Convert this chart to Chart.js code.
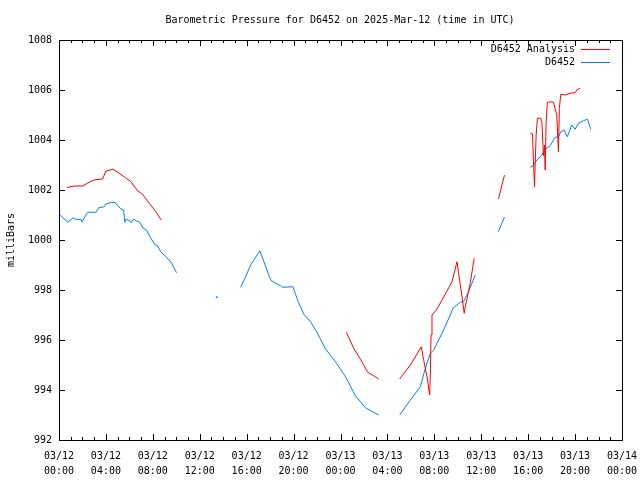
<!DOCTYPE html>
<html lang="en">
<head>
    <meta charset="UTF-8">
    <title>Barometric Pressure for D6452</title>
    <script src="https://cdn.jsdelivr.net/npm/chart.js"></script>
    <style>
        body { margin: 0; background: #fff; }
        #chartBox { width: 640px; height: 480px; }
    </style>
</head>
<body>
<div id="chartBox">
    <canvas id="myChart" width="640" height="480"></canvas>
</div>
<script>
    // hours since 03/12 00:00 UTC, null breaks the line
    const analysisHours = [
        0.68, 1.30, 2.02, 2.58, 2.95, 3.72, 4.00, 4.62, 5.13, 5.70, 6.13, 6.70, 7.12, 7.69, 8.26, 8.71,
        null,
        24.49, 25.13, 25.70, 26.32, 26.83, 27.26,
        null,
        29.05, 29.96, 30.89, 31.04, 31.23, 31.43, 31.51, 31.60, 31.66, 31.72, 31.80, 32.17, 32.66,
        33.51, 33.93, 34.07, 34.36, 34.55, 34.64, 35.06, 35.40,
        null,
        37.47, 37.98,
        null,
        40.17, 40.37, 40.45, 40.54, 40.60, 40.68, 40.79, 41.08, 41.17, 41.30, 41.39, 41.45, 41.53,
        41.64, 42.02, 42.15, 42.44, 42.58, 42.66, 42.78, 43.15, 43.57, 44.00, 44.14, 44.43
    ];
    const analysisValues = [
        1002.10, 1002.16, 1002.16, 1002.31, 1002.40, 1002.44, 1002.76, 1002.83, 1002.67, 1002.48,
        1002.33, 1001.97, 1001.83, 1001.47, 1001.13, 1000.80,
        null,
        996.31, 995.67, 995.23, 994.71, 994.57, 994.44,
        null,
        994.44, 995.00, 995.73, 995.33, 994.87, 994.40, 994.07, 993.80, 994.60, 996.20, 997.00, 997.20,
        997.60, 998.33, 999.13, 998.67, 997.73, 997.07, 997.33, 998.27, 999.27,
        null,
        1001.64, 1002.60,
        null,
        1004.27, 1004.24, 1003.20, 1002.13, 1003.07, 1004.20, 1004.87, 1004.87, 1004.73, 1003.37,
        1003.80, 1002.80, 1004.67, 1005.51, 1005.53, 1005.51, 1005.00, 1003.53, 1005.27, 1005.83,
        1005.80, 1005.87, 1005.89, 1006.00, 1006.07
    ];

    const stationHours = [
        0.03, 0.74, 1.22, 1.39, 1.87, 1.96, 2.44, 3.15, 3.38, 3.86, 4.00, 4.51, 4.79, 5.28, 5.51, 5.62,
        5.70, 6.04, 6.13, 6.36, 6.55, 6.89, 7.17, 7.46, 7.83, 8.20, 8.40, 8.68, 9.11, 9.53, 10.02,
        null,
        13.45,
        null,
        15.49, 15.91, 16.34, 16.77, 17.13, 17.47, 18.04, 18.32, 18.89, 19.04, 19.94, 20.37, 20.88,
        21.45, 22.02, 22.72, 23.57, 24.43, 25.28, 26.13, 27.26,
        null,
        29.05, 29.96, 30.81, 31.23, 31.66, 31.94, 32.66, 33.36, 33.59, 34.21, 34.49, 34.92, 35.49,
        null,
        37.45, 37.98,
        null,
        40.17, 40.40, 40.74, 41.17, 41.45, 41.87, 42.30, 42.58, 42.78, 43.06, 43.34, 43.72, 44.00,
        44.28, 44.71, 45.05, 45.13, 45.34
    ];
    const stationValues = [
        1001.03, 1000.71, 1000.89, 1000.83, 1000.83, 1000.72, 1001.11, 1001.11, 1001.29, 1001.33,
        1001.44, 1001.51, 1001.49, 1001.24, 1001.20, 1000.71, 1000.83, 1000.77, 1000.69, 1000.84,
        1000.77, 1000.71, 1000.47, 1000.40, 1000.07, 999.80, 999.77, 999.53, 999.33, 999.13, 998.69,
        null,
        997.71,
        null,
        998.11, 998.53, 999.00, 999.31, 999.57, 999.13, 998.40, 998.31, 998.17, 998.11, 998.13,
        997.56, 997.03, 996.73, 996.29, 995.64, 995.13, 994.53, 993.76, 993.29, 993.00,
        null,
        993.00, 993.60, 994.13, 994.87, 995.47, 995.60, 996.27, 997.00, 997.27, 997.51, 997.53,
        997.93, 998.60,
        null,
        1000.33, 1000.91,
        null,
        1002.91, 1002.96, 1003.20, 1003.40, 1003.63, 1003.77, 1004.11, 1004.13, 1004.33, 1004.40,
        1004.13, 1004.60, 1004.43, 1004.67, 1004.77, 1004.83, 1004.73, 1004.43
    ];

    const xTickHours = [0, 4, 8, 12, 16, 20, 24, 28, 32, 36, 40, 44, 48];
    const xTickDates = ['03/12', '03/12', '03/12', '03/12', '03/12', '03/12', '03/13',
                        '03/13', '03/13', '03/13', '03/13', '03/13', '03/14'];
    const xTickTimes = ['00:00', '04:00', '08:00', '12:00', '16:00', '20:00', '00:00',
                        '04:00', '08:00', '12:00', '16:00', '20:00', '00:00'];
    const yTicks = [992, 994, 996, 998, 1000, 1002, 1004, 1006, 1008];

    const chartTitle = 'Barometric Pressure for D6452 on 2025-Mar-12 (time in UTC)';
    const seriesNames = ['D6452 Analysis', 'D6452'];
    const seriesColors = ['#ff0000', '#0080ff'];

    const FONT = '"DejaVu Sans Mono", "Liberation Mono", monospace';

    // build {x, y} points, a null hour marks a gap
    function toPoints(hours, values) {
        let pts = [];
        for (let i = 0; i < hours.length; i++) {
            if (hours[i] === null) {
                pts.push({ x: (hours[i - 1] + hours[i + 1]) / 2, y: null });
            } else {
                pts.push({ x: hours[i], y: values[i] });
            }
        }
        return pts;
    }

    // single points between two gaps get a tiny dot so they are visible
    function loneDot(ctx) {
        let d = ctx.dataset.data;
        let i = ctx.dataIndex;
        if (d[i].y === null) return 0;
        let prev = i === 0 || d[i - 1].y === null;
        let next = i === d.length - 1 || d[i + 1].y === null;
        return (prev && next) ? 1 : 0;
    }

    // gnuplot-like frame, inward ticks, title and legend
    const gnuplotFrame = {
        id: 'gnuplotFrame',
        afterDraw(chart) {
            const c = chart.ctx;
            const a = chart.chartArea;
            const xs = chart.scales.x;
            const ys = chart.scales.y;
            c.save();
            c.strokeStyle = '#000';
            c.lineWidth = 1;
            c.strokeRect(Math.round(a.left) + 0.5, Math.round(a.top) + 0.5,
                         Math.round(a.right - a.left), Math.round(a.bottom - a.top));
            c.beginPath();
            for (let h = 0; h <= 48; h++) {
                let px = Math.round(xs.getPixelForValue(h)) + 0.5;
                let len = (h % 4 === 0) ? 6 : 3;
                c.moveTo(px, a.bottom); c.lineTo(px, a.bottom - len);
                c.moveTo(px, a.top); c.lineTo(px, a.top + len);
            }
            yTicks.forEach(v => {
                let py = Math.round(ys.getPixelForValue(v)) + 0.5;
                c.moveTo(a.left, py); c.lineTo(a.left + 6, py);
                c.moveTo(a.right, py); c.lineTo(a.right - 6, py);
            });
            c.stroke();

            c.fillStyle = '#000';
            c.font = '10px ' + FONT;
            c.textAlign = 'center';
            c.textBaseline = 'middle';
            c.fillText(chartTitle, 340, 20);

            // legend
            c.textAlign = 'right';
            seriesNames.forEach((name, i) => {
                let y = 49 + i * 13;
                c.fillStyle = '#000';
                c.fillText(name, 575, y);
                c.strokeStyle = seriesColors[i];
                c.beginPath();
                c.moveTo(581, y + 0.5);
                c.lineTo(610, y + 0.5);
                c.stroke();
            });

            // y axis title
            c.translate(11, 240);
            c.rotate(-Math.PI / 2);
            c.textAlign = 'center';
            c.fillStyle = '#000';
            c.fillText('milliBars', 0, 0);
            c.restore();
        }
    };

    let ctx = document.getElementById('myChart').getContext('2d');
    window.myChart = new Chart(ctx, {
        type: 'line',
        data: {
            datasets: [
                {
                    label: seriesNames[0],
                    data: toPoints(analysisHours, analysisValues),
                    borderColor: seriesColors[0],
                    backgroundColor: seriesColors[0],
                    borderWidth: 1,
                    pointRadius: loneDot,
                    pointBorderWidth: 0,
                    spanGaps: false,
                    fill: false,
                    tension: 0
                },
                {
                    label: seriesNames[1],
                    data: toPoints(stationHours, stationValues),
                    borderColor: seriesColors[1],
                    backgroundColor: seriesColors[1],
                    borderWidth: 1,
                    pointRadius: loneDot,
                    pointBorderWidth: 0,
                    spanGaps: false,
                    fill: false,
                    tension: 0
                }
            ]
        },
        options: {
            responsive: false,
            animation: false,
            layout: { padding: { top: 40, right: 18, left: 0, bottom: 0 } },
            plugins: {
                legend: { display: false },
                title: { display: false },
                tooltip: { enabled: false }
            },
            scales: {
                x: {
                    type: 'linear',
                    min: 0,
                    max: 48,
                    afterBuildTicks: scale => {
                        scale.ticks = xTickHours.map(v => ({ value: v }));
                    },
                    afterFit: scale => {
                        scale.height = 40;
                        scale.paddingLeft = 0;
                        scale.paddingRight = 0;
                    },
                    grid: { display: false, drawTicks: false },
                    border: { display: false },
                    ticks: {
                        color: '#000',
                        font: { family: FONT, size: 10, lineHeight: 1.5 },
                        padding: 9,
                        maxRotation: 0,
                        autoSkip: false,
                        callback: value => {
                            let i = xTickHours.indexOf(value);
                            return [xTickDates[i], xTickTimes[i]];
                        }
                    }
                },
                y: {
                    type: 'linear',
                    min: 992,
                    max: 1008,
                    afterBuildTicks: scale => {
                        scale.ticks = yTicks.map(v => ({ value: v }));
                    },
                    afterFit: scale => {
                        scale.width = 59;
                        scale.paddingTop = 0;
                        scale.paddingBottom = 0;
                    },
                    grid: { display: false, drawTicks: false },
                    border: { display: false },
                    ticks: {
                        color: '#000',
                        font: { family: FONT, size: 10 },
                        padding: 7,
                        callback: value => String(value)
                    }
                }
            }
        },
        plugins: [gnuplotFrame]
    });
</script>
</body>
</html>
